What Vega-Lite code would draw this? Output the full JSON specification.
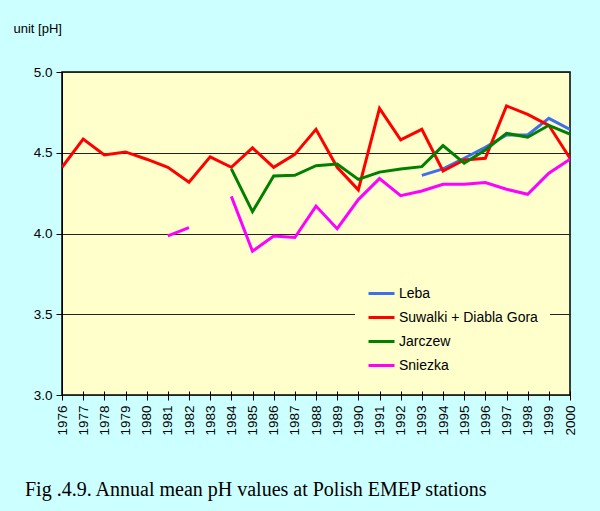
{
  "$schema": "https://vega.github.io/schema/vega-lite/v6.json",
  "width": 508,
  "height": 323,
  "autosize": {"type": "none"},
  "padding": {"left": 62, "top": 72, "right": 30, "bottom": 116},
  "background": "#CCFFFF",
  "title": {
    "text": "Fig .4.9. Annual mean pH values at Polish EMEP stations",
    "orient": "bottom",
    "anchor": "start",
    "frame": "group",
    "dx": -37,
    "offset": 45,
    "font": "Liberation Serif",
    "fontSize": 20,
    "fontWeight": "normal",
    "color": "#000000"
  },
  "config": {
    "view": {"fill": "#FFFFCC", "stroke": "#000000", "strokeWidth": 1.5},
    "font": "Liberation Sans"
  },
  "data": {
    "values": [
      {"year": 1993, "station": "Leba", "ph": 4.36},
      {"year": 1994, "station": "Leba", "ph": 4.40},
      {"year": 1995, "station": "Leba", "ph": 4.466},
      {"year": 1996, "station": "Leba", "ph": 4.534},
      {"year": 1997, "station": "Leba", "ph": 4.61},
      {"year": 1998, "station": "Leba", "ph": 4.61},
      {"year": 1999, "station": "Leba", "ph": 4.713},
      {"year": 2000, "station": "Leba", "ph": 4.645},
      {"year": 1976, "station": "Suwalki + Diabla Gora", "ph": 4.41},
      {"year": 1977, "station": "Suwalki + Diabla Gora", "ph": 4.585},
      {"year": 1978, "station": "Suwalki + Diabla Gora", "ph": 4.486},
      {"year": 1979, "station": "Suwalki + Diabla Gora", "ph": 4.505},
      {"year": 1980, "station": "Suwalki + Diabla Gora", "ph": 4.46},
      {"year": 1981, "station": "Suwalki + Diabla Gora", "ph": 4.41},
      {"year": 1982, "station": "Suwalki + Diabla Gora", "ph": 4.317},
      {"year": 1983, "station": "Suwalki + Diabla Gora", "ph": 4.475},
      {"year": 1984, "station": "Suwalki + Diabla Gora", "ph": 4.41},
      {"year": 1985, "station": "Suwalki + Diabla Gora", "ph": 4.53},
      {"year": 1986, "station": "Suwalki + Diabla Gora", "ph": 4.41},
      {"year": 1987, "station": "Suwalki + Diabla Gora", "ph": 4.49},
      {"year": 1988, "station": "Suwalki + Diabla Gora", "ph": 4.645},
      {"year": 1989, "station": "Suwalki + Diabla Gora", "ph": 4.41},
      {"year": 1990, "station": "Suwalki + Diabla Gora", "ph": 4.27},
      {"year": 1991, "station": "Suwalki + Diabla Gora", "ph": 4.775},
      {"year": 1992, "station": "Suwalki + Diabla Gora", "ph": 4.58},
      {"year": 1993, "station": "Suwalki + Diabla Gora", "ph": 4.645},
      {"year": 1994, "station": "Suwalki + Diabla Gora", "ph": 4.387},
      {"year": 1995, "station": "Suwalki + Diabla Gora", "ph": 4.455},
      {"year": 1996, "station": "Suwalki + Diabla Gora", "ph": 4.466},
      {"year": 1997, "station": "Suwalki + Diabla Gora", "ph": 4.79},
      {"year": 1998, "station": "Suwalki + Diabla Gora", "ph": 4.738},
      {"year": 1999, "station": "Suwalki + Diabla Gora", "ph": 4.67},
      {"year": 2000, "station": "Suwalki + Diabla Gora", "ph": 4.466},
      {"year": 1984, "station": "Jarczew", "ph": 4.40},
      {"year": 1985, "station": "Jarczew", "ph": 4.135},
      {"year": 1986, "station": "Jarczew", "ph": 4.356},
      {"year": 1987, "station": "Jarczew", "ph": 4.36},
      {"year": 1988, "station": "Jarczew", "ph": 4.42},
      {"year": 1989, "station": "Jarczew", "ph": 4.43},
      {"year": 1990, "station": "Jarczew", "ph": 4.335},
      {"year": 1991, "station": "Jarczew", "ph": 4.38},
      {"year": 1992, "station": "Jarczew", "ph": 4.40},
      {"year": 1993, "station": "Jarczew", "ph": 4.414},
      {"year": 1994, "station": "Jarczew", "ph": 4.544},
      {"year": 1995, "station": "Jarczew", "ph": 4.435},
      {"year": 1996, "station": "Jarczew", "ph": 4.517},
      {"year": 1997, "station": "Jarczew", "ph": 4.62},
      {"year": 1998, "station": "Jarczew", "ph": 4.596},
      {"year": 1999, "station": "Jarczew", "ph": 4.67},
      {"year": 2000, "station": "Jarczew", "ph": 4.616},
      {"year": 1981, "station": "Sniezka", "ph": 3.985},
      {"year": 1982, "station": "Sniezka", "ph": 4.036},
      {"year": 1983, "station": "Sniezka", "ph": null},
      {"year": 1984, "station": "Sniezka", "ph": 4.23},
      {"year": 1985, "station": "Sniezka", "ph": 3.89},
      {"year": 1986, "station": "Sniezka", "ph": 3.985},
      {"year": 1987, "station": "Sniezka", "ph": 3.975},
      {"year": 1988, "station": "Sniezka", "ph": 4.17},
      {"year": 1989, "station": "Sniezka", "ph": 4.03},
      {"year": 1990, "station": "Sniezka", "ph": 4.21},
      {"year": 1991, "station": "Sniezka", "ph": 4.34},
      {"year": 1992, "station": "Sniezka", "ph": 4.234},
      {"year": 1993, "station": "Sniezka", "ph": 4.263},
      {"year": 1994, "station": "Sniezka", "ph": 4.305},
      {"year": 1995, "station": "Sniezka", "ph": 4.305},
      {"year": 1996, "station": "Sniezka", "ph": 4.315},
      {"year": 1997, "station": "Sniezka", "ph": 4.274},
      {"year": 1998, "station": "Sniezka", "ph": 4.243},
      {"year": 1999, "station": "Sniezka", "ph": 4.373},
      {"year": 2000, "station": "Sniezka", "ph": 4.46}
    ]
  },
  "mark": {"type": "line", "strokeWidth": 3, "invalid": "break-paths-show-domains", "clip": true},
  "encoding": {
    "x": {
      "field": "year",
      "type": "quantitative",
      "scale": {"domain": [1976, 2000], "nice": false, "zero": false},
      "axis": {
        "values": [1976,1977,1978,1979,1980,1981,1982,1983,1984,1985,1986,1987,1988,1989,1990,1991,1992,1993,1994,1995,1996,1997,1998,1999,2000],
        "format": "d",
        "title": null,
        "grid": false,
        "domain": false,
        "offset": -4,
        "ticks": true,
        "tickSize": 9,
        "tickColor": "#000000",
        "tickWidth": 1,
        "labelAngle": 270,
        "labelAlign": "right",
        "labelBaseline": "middle",
        "labelPadding": 5,
        "labelFont": "Liberation Sans",
        "labelFontSize": 13.5,
        "labelColor": "#000000",
        "labelOverlap": false,
        "labelFlush": false
      }
    },
    "y": {
      "field": "ph",
      "type": "quantitative",
      "scale": {"domain": [3.0, 5.0], "nice": false, "zero": false},
      "axis": {
        "values": [3.0, 3.5, 4.0, 4.5, 5.0],
        "format": ".1f",
        "title": "unit [pH]",
        "titleAngle": 0,
        "titleX": -49,
        "titleY": -44,
        "titleAlign": "left",
        "titleBaseline": "middle",
        "titleFont": "Liberation Sans",
        "titleFontSize": 13,
        "titleFontWeight": "normal",
        "titleColor": "#000000",
        "grid": true,
        "gridColor": "#222222",
        "gridWidth": 1,
        "domain": true,
        "domainColor": "#000000",
        "tickSize": 6,
        "tickColor": "#000000",
        "labelPadding": 4,
        "labelFont": "Liberation Sans",
        "labelFontSize": 13.5,
        "labelColor": "#000000"
      }
    },
    "color": {
      "field": "station",
      "type": "nominal",
      "scale": {
        "domain": ["Leba", "Suwalki + Diabla Gora", "Jarczew", "Sniezka"],
        "range": ["#3F6FEF", "#FF0000", "#007F00", "#FF00FF"]
      },
      "legend": {
        "title": null,
        "orient": "none",
        "legendX": 293,
        "legendY": 195,
        "fillColor": "#FFFFCC",
        "padding": 12,
        "symbolType": "stroke",
        "symbolSize": 676,
        "symbolStrokeWidth": 3,
        "labelFont": "Liberation Sans",
        "labelFontSize": 14,
        "labelColor": "#000000",
        "labelOffset": 3,
        "rowPadding": 2,
        "labelLimit": 300
      }
    }
  }
}
